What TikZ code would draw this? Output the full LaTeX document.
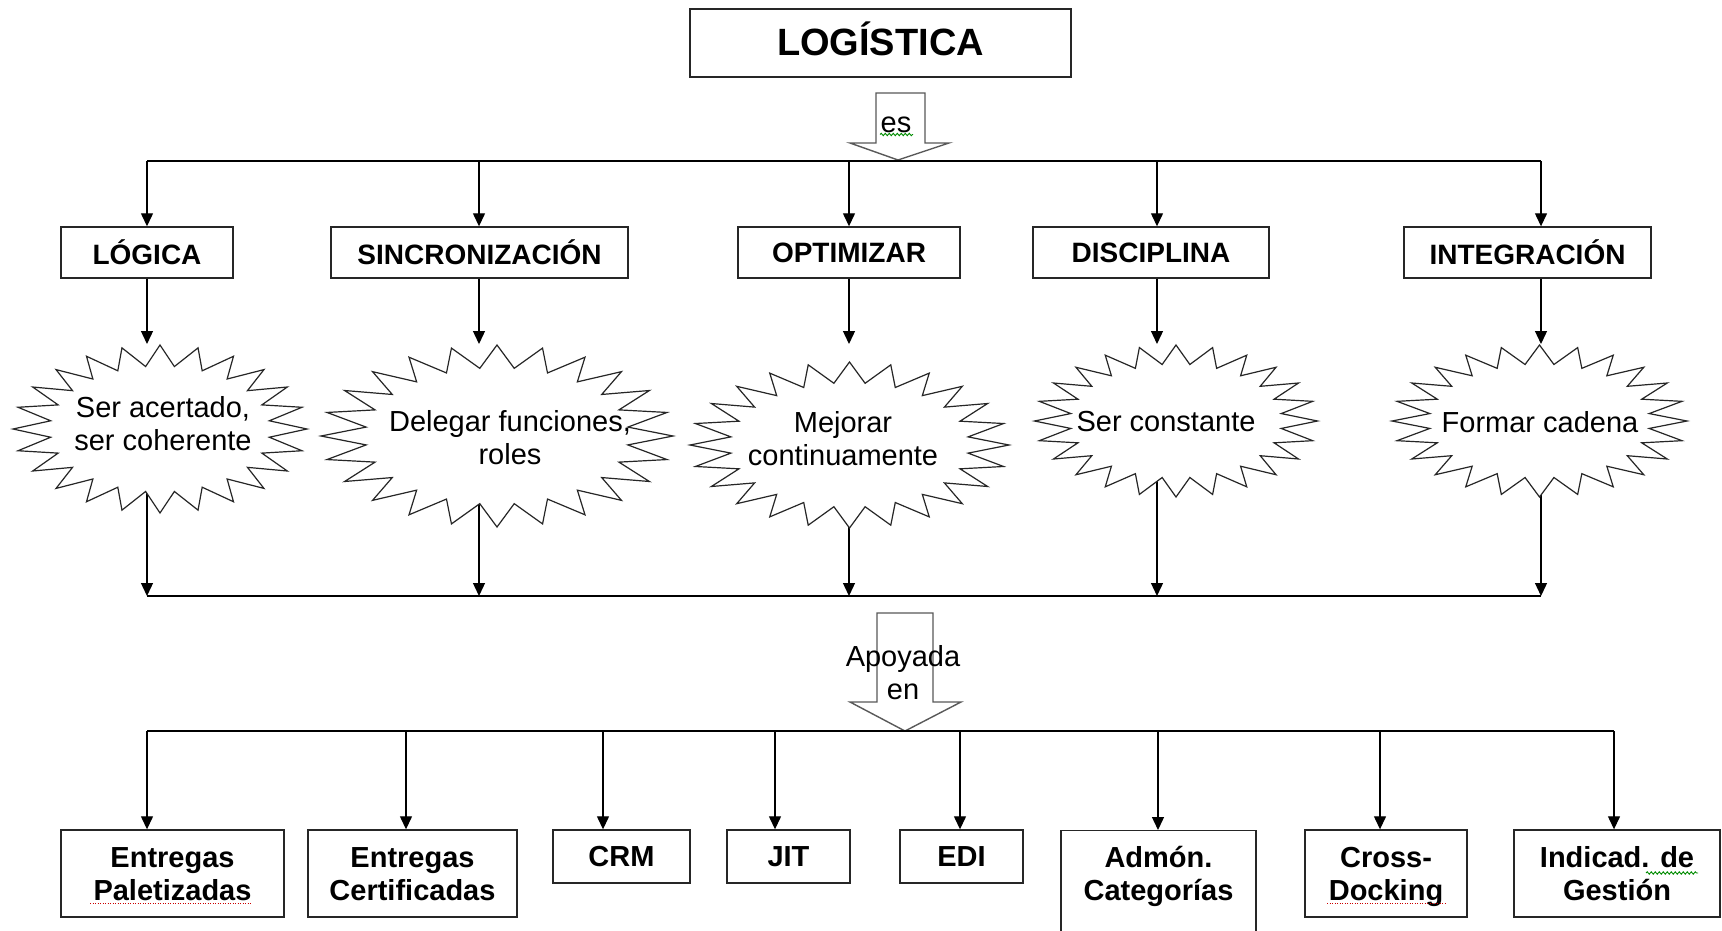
\documentclass[tikz,border=0pt]{standalone}
\usepackage{fontspec}
\setmainfont{Liberation Sans}
\usetikzlibrary{arrows.meta,decorations.pathmorphing}

\tikzset{
  conn/.style={line width=1.3pt, black},
  arr/.style={conn, -{Triangle[length=13pt,width=12pt]}},
  mainbox/.style={draw=black!85, line width=1.4pt, fill=white, inner sep=0pt,
    text height=24pt, text depth=0pt,
    minimum width=381pt, minimum height=68pt, font=\fontsize{38}{44}\selectfont\bfseries},
  catbox/.style={draw=black!85, line width=1.4pt, inner sep=0pt, minimum height=51pt,
    font=\fontsize{28}{32}\selectfont\bfseries},
  toolbox/.style={draw=black!85, line width=1.4pt, inner sep=0pt, align=center,
    font=\fontsize{29}{33}\selectfont\bfseries},
  burstarea/.style={inner sep=0pt, outer sep=0pt},
  burst/.style={draw=black!85, line width=1.2pt, fill=white, line join=miter},
  plain/.style={inner sep=0pt, align=center, font=\fontsize{29}{33}\selectfont},
  blockarrow/.style={draw=black!65, line width=1.4pt, fill=white, line join=miter},
  spellred/.style={red!80!black, line width=1pt, dash pattern=on 1pt off 1.5pt},
  spellgreen/.style={green!55!black, line width=0.9pt, decorate,
    decoration={snake, amplitude=1.2pt, segment length=4pt}},
}

% 24-point star centred at (#1,#2) with radii #3, #4
\newcommand\starburstpath[4]{%
  \draw[burst] plot[domain=0:47, samples=48, variable=\k]
    ({#1+#3*(1-0.25*mod(round(\k),2))*cos(90+7.5*\k)},
     {#2-#4*(1-0.25*mod(round(\k),2))*sin(90+7.5*\k)}) -- cycle;}

% two centred lines with a fixed height and depth
\newcommand\twolines[2]{\rule{0pt}{27pt}#1\\#2\rule[-6pt]{0pt}{6pt}}

\begin{document}
\begin{tikzpicture}[x=1pt,y=-1pt]
\useasboundingbox (0,0) rectangle (1722,930);
\fill[white] (0,0) rectangle (1722,930);

% title
\node[mainbox] (log) at (880.5,43) {LOGÍSTICA};

% "es" block arrow
\draw[blockarrow] (876,93) -- (925,93) -- (925,143) -- (949,143) -- (898,160)
  -- (850,143) -- (876,143) -- cycle;
\node[plain, anchor=base] (es) at (896,132) {es};
\draw[spellgreen] (880,134.5) -- (913,134.5);

% upper bus
\foreach \n/\x in {t1/147,t2/479,t3/849,t4/1157,t5/1541}
  \coordinate (\n) at (\x,161);
\draw[conn] (t1) -- (t5);

% categories
\node[catbox, minimum width=172] (c1) at (147,252.5) {LÓGICA};
\node[catbox, minimum width=297] (c2) at (479.5,252.5) {SINCRONIZACIÓN};
\node[catbox, minimum width=222] (c3) at (849,252.5) {OPTIMIZAR};
\node[catbox, minimum width=236] (c4) at (1151,252.5) {DISCIPLINA};
\node[catbox, minimum width=247] (c5) at (1527.5,252.5) {INTEGRACIÓN};

% star areas
\node[burstarea, minimum width=294, minimum height=168] (s1) at (160,429) {};
\node[burstarea, minimum width=352, minimum height=182] (s2) at (497,436) {};
\node[burstarea, minimum width=319, minimum height=166] (s3) at (849.5,445) {};
\node[burstarea, minimum width=283, minimum height=152] (s4) at (1176,421) {};
\node[burstarea, minimum width=295, minimum height=152] (s5) at (1539.5,421) {};
\coordinate (burstrow) at (0,344);

% lower bus
\foreach \n/\x in {m1/147,m2/479,m3/849,m4/1157,m5/1541}
  \coordinate (\n) at (\x,596);
\draw[conn] (m1) -- (m5);

% connectors of the upper part
\foreach \i in {1,...,5}{
  \draw[arr] (t\i) -- (t\i |- c\i.north);
  \draw[arr] (t\i |- c\i.south) -- (t\i |- burstrow);
  \draw[arr] (t\i |- s\i.center) -- (m\i);
}

% stars
\starburstpath{160}{429}{147}{84}
\starburstpath{497}{436}{176}{91}
\starburstpath{849.5}{445}{159.5}{83}
\starburstpath{1176}{421}{141.5}{76}
\starburstpath{1539.5}{421}{147.5}{76}

\node[plain] (l1) at (163,424) {Ser acertado,\\ser coherente};
\node[plain] (l2) at (510,438) {Delegar funciones,\\roles};
\node[plain] (l3) at (843,439) {Mejorar\\continuamente};
\node[plain] (l4) at (1166,422) {Ser constante};
\node[plain] (l5) at (1540,422) {Formar cadena};

% "Apoyada en" block arrow
\draw[blockarrow] (877,613) -- (933,613) -- (933,702) -- (961,702) -- (905,731)
  -- (850,702) -- (877,702) -- cycle;
\node[plain] (ap) at (903,672.5) {Apoyada\\en};

% bottom bus
\foreach \n/\x in {u1/147,u2/406,u3/603,u4/775,u5/960,u6/1158,u7/1380,u8/1614}
  \coordinate (\n) at (\x,731);
\draw[conn] (u1) -- (u8);

% tools
\node[toolbox, minimum width=223, minimum height=87] (b1) at (172.5,873.5) {\twolines{Entregas}{Paletizadas}};
\node[toolbox, minimum width=209, minimum height=87] (b2) at (412.5,873.5) {\twolines{Entregas}{Certificadas}};
\node[toolbox, minimum width=137, minimum height=53] (b3) at (621.5,856.5) {CRM};
\node[toolbox, minimum width=123, minimum height=53] (b4) at (788.5,856.5) {JIT};
\node[toolbox, minimum width=123, minimum height=53] (b5) at (961.5,856.5) {EDI};
\node[toolbox, minimum width=195, minimum height=130, anchor=north] (b6) at (1158.5,830) {};
\node[plain, font=\fontsize{29}{33}\selectfont\bfseries] (b6t) at (1158.5,873.5) {\twolines{Admón.}{Categorías}};
\node[toolbox, minimum width=162, minimum height=87] (b7) at (1386,873.5) {\twolines{Cross-}{Docking}};
\node[toolbox, minimum width=206, minimum height=87] (b8) at (1617,873.5) {\twolines{Indicad. de}{Gestión}};

\foreach \i in {1,...,8}
  \draw[arr] (u\i) -- (u\i |- b\i.north);

% proofing marks
\draw[spellred] (90,903) -- (252,903);
\draw[spellred] (1327,903) -- (1445,903);
\draw[spellgreen] (1646,873) -- (1698,873);
\end{tikzpicture}
\end{document}
